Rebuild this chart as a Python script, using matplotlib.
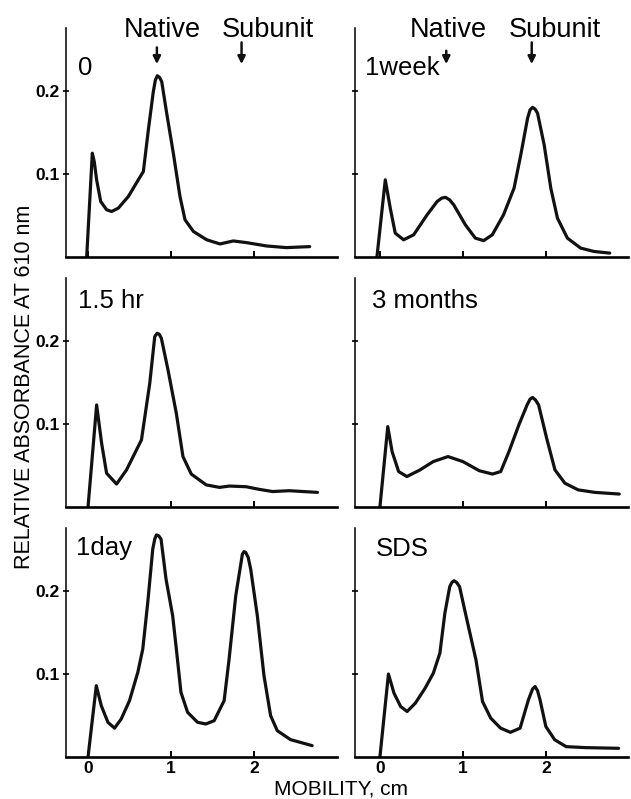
import matplotlib.pyplot as plt

plt.rcParams['font.family'] = ['Liberation Sans', 'DejaVu Sans']

# densitometer traces, mobility (cm) vs absorbance at 610 nm
x_t0 = [-0.016, 0.052, 0.075, 0.104, 0.153, 0.225, 0.285, 0.365, 0.486, 0.606, 0.667, 0.727, 0.787,
        0.812, 0.835, 0.862, 0.888, 0.948, 1.028, 1.108, 1.169, 1.27, 1.43, 1.59, 1.75, 1.91, 2.15,
        2.39, 2.67]
y_t0 = [0.0, 0.125, 0.115, 0.093, 0.067, 0.057, 0.055, 0.059, 0.073, 0.093, 0.103, 0.153, 0.199,
        0.213, 0.218, 0.216, 0.211, 0.173, 0.125, 0.073, 0.045, 0.031, 0.021, 0.016, 0.0196, 0.0176,
        0.0136, 0.0116, 0.0128]

x_1week = [-0.036, 0.065, 0.125, 0.185, 0.286, 0.407, 0.569, 0.69, 0.745, 0.79, 0.84, 0.89, 1.03,
           1.15, 1.25, 1.355, 1.49, 1.617, 1.698, 1.78, 1.81, 1.84, 1.87, 1.9, 1.98, 2.06, 2.14,
           2.26, 2.42, 2.58, 2.77]
y_1week = [0.0, 0.093, 0.059, 0.029, 0.021, 0.027, 0.051, 0.067, 0.071, 0.072, 0.069, 0.063, 0.039,
           0.023, 0.020, 0.027, 0.051, 0.083, 0.123, 0.167, 0.177, 0.180, 0.178, 0.173, 0.135, 0.083,
           0.047, 0.023, 0.011, 0.007, 0.005]

x_15hr = [0.0, 0.104, 0.164, 0.224, 0.344, 0.464, 0.644, 0.744, 0.804, 0.832, 0.858, 0.884, 0.964,
          1.064, 1.144, 1.244, 1.424, 1.584, 1.704, 1.904, 2.064, 2.224, 2.424, 2.764]
y_15hr = [0.0, 0.123, 0.077, 0.041, 0.028, 0.045, 0.081, 0.149, 0.205, 0.209, 0.208, 0.203, 0.165,
          0.113, 0.061, 0.040, 0.027, 0.024, 0.0256, 0.0248, 0.0216, 0.019, 0.020, 0.018]

x_3mo = [0.0, 0.095, 0.147, 0.226, 0.325, 0.484, 0.643, 0.821, 1.0, 1.198, 1.357, 1.456, 1.556,
         1.675, 1.774, 1.81, 1.84, 1.875, 1.913, 2.01, 2.11, 2.23, 2.39, 2.59, 2.885]
y_3mo = [0.0, 0.097, 0.067, 0.043, 0.037, 0.045, 0.055, 0.061, 0.055, 0.044, 0.040, 0.043, 0.067,
         0.099, 0.123, 0.130, 0.132, 0.129, 0.123, 0.083, 0.045, 0.029, 0.021, 0.018, 0.016]

x_1day = [0.0, 0.1, 0.16, 0.24, 0.32, 0.4, 0.5, 0.6, 0.66, 0.72, 0.78, 0.804, 0.824, 0.852, 0.88,
          0.94, 1.02, 1.06, 1.12, 1.2, 1.32, 1.42, 1.52, 1.64, 1.7, 1.78, 1.86, 1.88, 1.9, 1.93, 1.96,
          2.04, 2.12, 2.2, 2.28, 2.44, 2.7]
y_1day = [0.0, 0.086, 0.062, 0.042, 0.035, 0.046, 0.068, 0.102, 0.130, 0.186, 0.25, 0.262, 0.267,
          0.266, 0.262, 0.214, 0.170, 0.134, 0.078, 0.054, 0.042, 0.040, 0.044, 0.068, 0.118, 0.194,
          0.244, 0.247, 0.246, 0.240, 0.226, 0.170, 0.098, 0.050, 0.032, 0.0212, 0.014]

x_sds = [0.0, 0.103, 0.17, 0.25, 0.328, 0.427, 0.545, 0.644, 0.723, 0.783, 0.842, 0.868, 0.893,
         0.925, 0.96, 1.04, 1.158, 1.237, 1.336, 1.455, 1.573, 1.69, 1.79, 1.84, 1.87, 1.90, 1.93,
         2.0, 2.107, 2.245, 2.48, 2.877]
y_sds = [0.0, 0.100, 0.077, 0.061, 0.055, 0.065, 0.083, 0.101, 0.125, 0.173, 0.205, 0.210, 0.212,
         0.210, 0.205, 0.169, 0.117, 0.067, 0.047, 0.035, 0.030, 0.035, 0.069, 0.082, 0.085, 0.080,
         0.069, 0.037, 0.021, 0.0128, 0.0116, 0.0108]

panels = [
    ('0', x_t0, y_t0, 0, 0, (-0.12, 0.219)),
    ('1week', x_1week, y_1week, 0, 1, (-0.18, 0.219)),
    ('1.5 hr', x_15hr, y_15hr, 1, 0, (-0.12, 0.239)),
    ('3 months', x_3mo, y_3mo, 1, 1, (-0.09, 0.240)),
    ('1day', x_1day, y_1day, 2, 0, (-0.145, 0.243)),
    ('SDS', x_sds, y_sds, 2, 1, (-0.045, 0.242)),
]

col_left = [0.1046, 0.5626]
col_width = [0.4295, 0.4326]
col_xlim = [(-0.265, 3.0), (-0.30, 2.99)]
row_bottom = [0.678, 0.365, 0.0522]
row_height = 0.2866

fig = plt.figure(figsize=(6.31, 7.99), dpi=100)
axes = {}
for label, xs, ys, r, c, lpos in panels:
    ax = fig.add_axes([col_left[c], row_bottom[r], col_width[c], row_height])
    axes[(r, c)] = ax
    ax.plot(xs, ys, color='#111111', lw=2.3, solid_joinstyle='round', solid_capstyle='round')
    ax.set_xlim(*col_xlim[c])
    ax.set_ylim(0, 0.275)
    for s in ['top', 'right']:
        ax.spines[s].set_visible(False)
    ax.spines['bottom'].set_linewidth(1.9)
    ax.spines['left'].set_linewidth(1.1)
    ax.set_xticks([0, 1, 2])
    ax.set_yticks([0.1, 0.2])
    ax.tick_params(axis='x', direction='in', length=4, width=1.4, pad=3)
    ax.tick_params(axis='y', direction='inout', length=5, width=1.2, pad=2)
    if r == 2:
        ax.set_xticklabels(['0', '1', '2'], fontsize=12.5, fontweight='bold')
    else:
        ax.set_xticklabels([])
    if c == 0:
        ax.set_yticklabels(['0.1', '0.2'], fontsize=12.5, fontweight='bold')
    else:
        ax.set_yticklabels([])
    ax.text(lpos[0], lpos[1], label, fontsize=18.5, ha='left', va='baseline')

# band markers above the top row
markers = [
    (0, 0.89, 0.83, 'Native'), (0, 2.17, 1.85, 'Subunit'),
    (1, 0.82, 0.80, 'Native'), (1, 2.11, 1.83, 'Subunit'),
]
for c, tx, ax_x, name in markers:
    ax = axes[(0, c)]
    ax.text(tx, 0.264, name, fontsize=19.5, ha='center', va='baseline', clip_on=False)
    y0 = 0.258 if name == 'Subunit' else 0.252
    if c == 1 and name == 'Native':
        y0 = 0.248
    ax.annotate('', xy=(ax_x, 0.232), xytext=(ax_x, y0),
                arrowprops=dict(arrowstyle='-|>', lw=1.8, color='#111111',
                                mutation_scale=11, shrinkA=0, shrinkB=0),
                annotation_clip=False)

fig.text(0.039, 0.516, 'RELATIVE ABSORBANCE AT 610 nm', rotation=90,
         fontsize=15.5, ha='center', va='center')
fig.text(0.540, 0.0125, 'MOBILITY, cm', fontsize=15, ha='center', va='center')

fig.savefig('out.png', dpi=100)
